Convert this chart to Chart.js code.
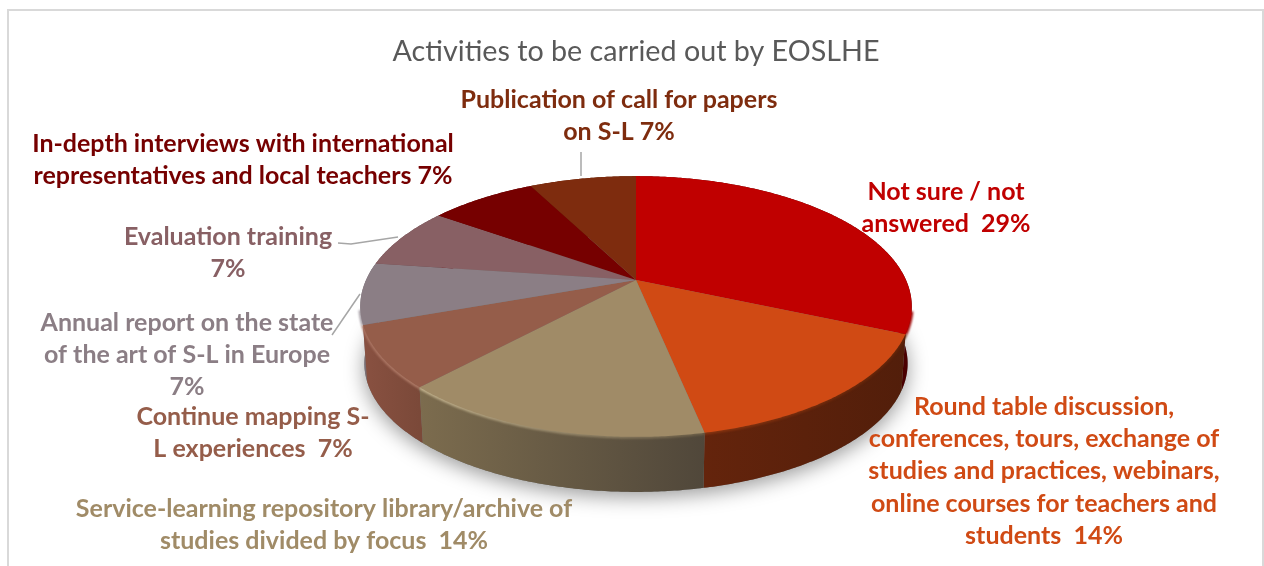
<!DOCTYPE html>
<html>
<head>
<meta charset="utf-8">
<title>Activities to be carried out by EOSLHE</title>
<script src="https://cdn.jsdelivr.net/npm/chart.js@4"></script>
<style>
    html, body { margin: 0; background: #fff; }
    canvas { display: block; }
</style>
</head>
<body>
<canvas id="myChart" width="1264" height="566"></canvas>
<script>
const categories = [
    "Not sure / not answered",
    "Round table discussion, conferences, tours, exchange of studies and practices, webinars, online courses for teachers and students",
    "Service-learning repository library/archive of studies divided by focus",
    "Continue mapping S-L experiences",
    "Annual report on the state of the art of S-L in Europe",
    "Evaluation training",
    "In-depth interviews with international representatives and local teachers",
    "Publication of call for papers on S-L"
];
const values = [29, 14, 14, 7, 7, 7, 7, 7];

// wrapped label text, the value gets appended to the last line
const labelLines = [
    ["Not sure / not", "answered  "],
    ["Round table discussion,", "conferences, tours, exchange of", "studies and practices, webinars,", "online courses for teachers and", "students  "],
    ["Service-learning repository library/archive of", "studies divided by focus  "],
    ["Continue mapping S-", "L experiences  "],
    ["Annual report on the state", "of the art of S-L in Europe", ""],
    ["Evaluation training", ""],
    ["In-depth interviews with international", "representatives and local teachers "],
    ["Publication of call for papers", "on S-L "]
];

const topColors = ["#C00000", "#D04A14", "#A08B67", "#955D4A", "#8B7E85", "#886064", "#760000", "#7E2C0E"];
const sideColors = [
    ["#5c0000", "#4a0000"], ["#64240c", "#521e0a"], ["#7c6c4e", "#50473a"], ["#895141", "#7b4939"],
    ["#7f747b", "#6f656c"], ["#705054", "#604448"], ["#5a0000", "#5a0000"], ["#5f2109", "#5f2109"]
];
const rimColors = [
    ["#c00000", "#9c0000"], ["#8a3410", "#642508"], ["#c4b48f", "#6e6048"], ["#ab7462", "#b07c68"],
    ["#a79fa6", "#a39ba2"], ["#8f6a6e", "#8f6a6e"], ["#760000", "#760000"], ["#7e2c0e", "#7e2c0e"]
];

// label anchor: centre x and centre y of the first line
const labelPos = [[946, 192], [1044, 407], [324, 509], [253, 417], [187, 323], [228, 237], [243, 144], [619, 100]];
const leaderLines = [
    [[581, 152], [581, 176]],
    [[338, 243], [351, 244], [398, 237]],
    [[332, 335], [360, 294]]
];

// perspective of the disc
const RX = 270, RY = 125, TILT = 0.203;
const DEPTH = 57.4, BOTTOM_SCALE = 0.985;
const LINE_HEIGHT = 32.2;

function rimPoint(arc, angle, lower) {
    const u = Math.cos(angle), v = Math.sin(angle);
    const w = 1 - TILT * v;
    const s = lower ? BOTTOM_SCALE : 1;
    return {
        x: arc.x + s * RX * u / w,
        y: arc.y + (lower ? DEPTH : 0) + s * RY * v / w
    };
}

function rimPoints(arc, lower) {
    const pts = [];
    const n = Math.ceil((arc.endAngle - arc.startAngle) / 0.01);
    for (let i = 0; i <= n; i++) {
        pts.push(rimPoint(arc, arc.startAngle + (arc.endAngle - arc.startAngle) * i / n, lower));
    }
    return pts;
}

function tracePoints(ctx, pts) {
    pts.forEach(p => ctx.lineTo(p.x, p.y));
}

function xGradient(ctx, pts, colors) {
    const xs = pts.map(p => p.x);
    const g = ctx.createLinearGradient(Math.min(...xs), 0, Math.max(...xs), 0);
    g.addColorStop(0, colors[0]);
    g.addColorStop(1, colors[1]);
    return g;
}

const disc3d = {
    id: "disc3d",
    beforeDatasetDraw(chart, args) {
        const ctx = chart.ctx;
        const arcs = args.meta.data;
        const centre = arcs[0];

        // soft ground shadow below the disc
        ctx.save();
        ctx.shadowColor = "rgba(0,0,0,0.4)";
        ctx.shadowBlur = 20;
        ctx.shadowOffsetY = 5;
        ctx.fillStyle = "#777";
        ctx.beginPath();
        arcs.forEach(arc => tracePoints(ctx, rimPoints(arc, true)));
        ctx.closePath();
        ctx.fill();
        ctx.restore();

        // side walls, back ones first
        const order = arcs.map((arc, i) => i).sort((a, b) =>
            Math.sin((arcs[a].startAngle + arcs[a].endAngle) / 2) - Math.sin((arcs[b].startAngle + arcs[b].endAngle) / 2));
        order.forEach(i => {
            const top = rimPoints(arcs[i], false);
            const bottom = rimPoints(arcs[i], true).reverse();
            ctx.fillStyle = xGradient(ctx, top, sideColors[i]);
            ctx.beginPath();
            tracePoints(ctx, top);
            tracePoints(ctx, bottom);
            ctx.closePath();
            ctx.fill();
        });

        // rim bevel between wall and top face, front part only
        ctx.save();
        ctx.filter = "blur(1.2px)";
        ctx.lineWidth = 3.5;
        arcs.forEach((arc, i) => {
            const top = rimPoints(arc, false);
            const front = top.filter(p => p.y > arc.y + 30);
            if (front.length < 2) return;
            ctx.strokeStyle = xGradient(ctx, top, rimColors[i]);
            ctx.beginPath();
            tracePoints(ctx, front);
            ctx.stroke();
        });
        ctx.restore();

        // top faces
        arcs.forEach(arc => {
            const top = rimPoints(arc, false);
            ctx.fillStyle = arc.options.backgroundColor;
            ctx.beginPath();
            ctx.moveTo(centre.x, centre.y);
            tracePoints(ctx, top);
            ctx.closePath();
            ctx.fill();
        });
        return false;
    }
};

const outerLabels = {
    id: "outerLabels",
    beforeDraw(chart) {
        const ctx = chart.ctx;
        // chart frame, open at the bottom
        ctx.save();
        ctx.strokeStyle = "#d9d9d9";
        ctx.lineWidth = 2;
        ctx.beginPath();
        ctx.moveTo(8, 566);
        ctx.lineTo(8, 10);
        ctx.lineTo(1263, 10);
        ctx.lineTo(1263, 566);
        ctx.stroke();
        ctx.restore();
    },
    afterDraw(chart) {
        const ctx = chart.ctx;
        ctx.save();
        ctx.strokeStyle = "#a6a6a6";
        ctx.lineWidth = 1.5;
        leaderLines.forEach(line => {
            ctx.beginPath();
            line.forEach(p => ctx.lineTo(p[0], p[1]));
            ctx.stroke();
        });
        ctx.font = "bold 25px Lato";
        ctx.textAlign = "center";
        ctx.textBaseline = "middle";
        labelLines.forEach((lines, i) => {
            ctx.fillStyle = topColors[i];
            lines.forEach((line, j) => {
                const text = j === lines.length - 1 ? line + values[i] + "%" : line;
                ctx.fillText(text, labelPos[i][0], labelPos[i][1] + j * LINE_HEIGHT);
            });
        });
        ctx.restore();
    }
};

new Chart("myChart", {
    type: "pie",
    data: {
        labels: categories,
        datasets: [{
            data: values,
            backgroundColor: topColors,
            borderWidth: 0
        }]
    },
    options: {
        responsive: false,
        animation: false,
        layout: { padding: { left: 8, bottom: 80.4 } },
        plugins: {
            legend: { display: false },
            tooltip: { enabled: false },
            title: {
                display: true,
                text: "Activities to be carried out by EOSLHE",
                color: "#595959",
                font: { family: "Lato", size: 28.7, weight: "normal" },
                padding: { top: 35, bottom: 5 }
            }
        }
    },
    plugins: [disc3d, outerLabels]
});
</script>
</body>
</html>
